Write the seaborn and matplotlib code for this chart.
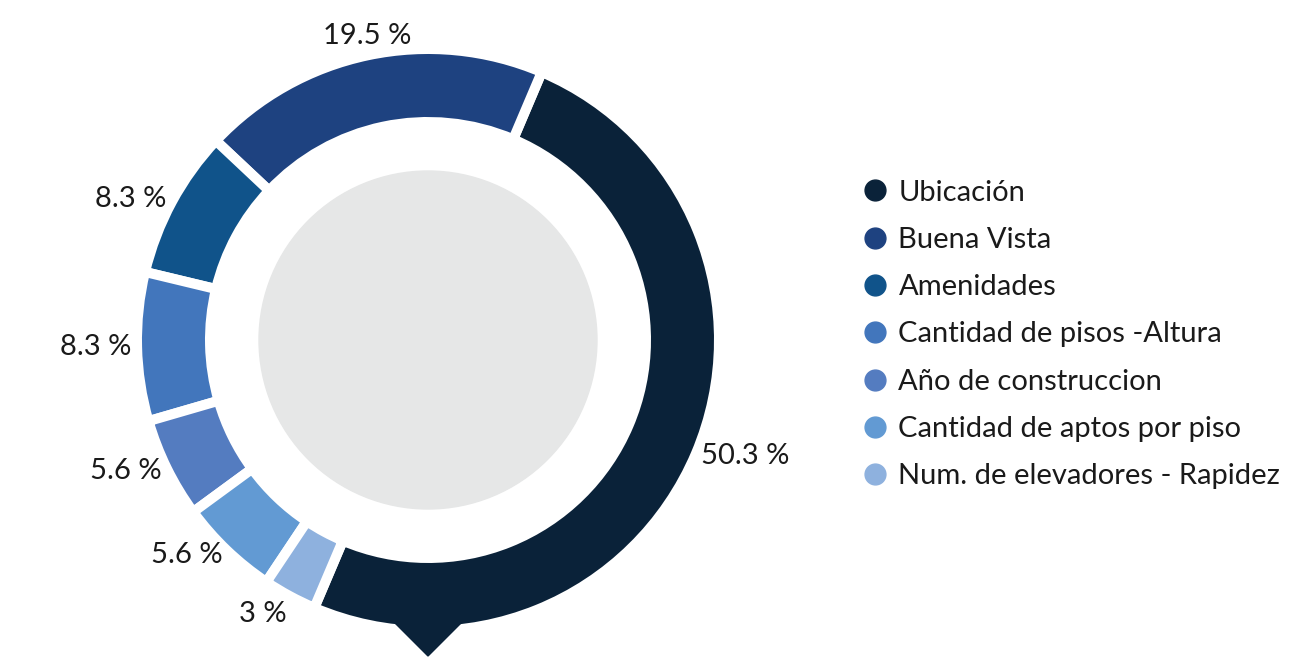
import matplotlib
matplotlib.use("Agg")
import matplotlib.pyplot as plt
import seaborn as sns
import numpy as np
from matplotlib.patches import Circle, Polygon
from matplotlib.lines import Line2D

# Data
categories = ['Ubicación', 'Buena Vista', 'Amenidades', 'Cantidad de pisos -Altura',
              'Año de construccion', 'Cantidad de aptos por piso', 'Num. de elevadores - Rapidez']
shares = [50.3, 19.5, 8.3, 8.3, 5.6, 5.6, 3]
share_labels = ['50.3 %', '19.5 %', '8.3 %', '8.3 %', '5.6 %', '5.6 %', '3 %']
colors = ['#0A2239', '#1E4280', '#10538A', '#4276BC', '#547CC0', '#629AD3', '#8EB1DE']

sns.set_theme(style='white')
plt.rcParams['font.family'] = ['Lato', 'DejaVu Sans']

fig = plt.figure(figsize=(13.07, 6.64), dpi=100)
ax = fig.add_axes([0, 0, 1, 1])

cx, cy = 428, 324
R_out, R_in = 286, 223
gap = 10

# Ubicacion on the right, the rest running counter-clockwise over the top to bottom-left
ubic_span = shares[0] / sum(shares) * 360
start = 90 - (113 + ubic_span / 2)
wedges, _ = ax.pie(shares, colors=colors, center=(cx, cy), radius=R_out + gap / 2,
                   startangle=start, counterclock=True, frame=True,
                   wedgeprops=dict(width=R_out - R_in + gap, edgecolor='white',
                                   linewidth=gap * 0.72))
ax.set_xlim(0, 1307)
ax.set_ylim(0, 664)
ax.axis('off')

# pointer under the big wedge
tri = Polygon([(cx - 48, cy - 268), (cx + 48, cy - 268), (cx, cy - 316)],
              closed=True, color=colors[0], zorder=3)
ax.add_patch(tri)

# grey centre disc
ax.add_patch(Circle((cx, cy), 169, color='#E6E7E7', zorder=2))

# percentage labels just outside the ring
for w, lab in zip(wedges, share_labels):
    mid = np.deg2rad((w.theta1 + w.theta2) / 2)
    c, s = np.cos(mid), np.sin(mid)
    ha = 'left' if c > 0.25 else ('right' if c < -0.25 else 'center')
    va = 'bottom' if s > 0.85 else ('top' if s < -0.85 else 'center')
    r = 297
    ax.text(cx + r * c, cy + r * s, lab, ha=ha, va=va,
            fontsize=21, color='#1a1a1a')

handles = [Line2D([0], [0], marker='o', linestyle='', markersize=15,
                  markerfacecolor=c, markeredgecolor=c) for c in colors]
ax.legend(handles, categories, loc='upper left', bbox_to_anchor=(843 / 1307, 1 - 165 / 664),
          frameon=False, fontsize=21, labelspacing=0.73, handletextpad=0.2,
          handlelength=1.2, borderpad=0, labelcolor='#1a1a1a')

fig.savefig('out.png', dpi=100, facecolor='white')
